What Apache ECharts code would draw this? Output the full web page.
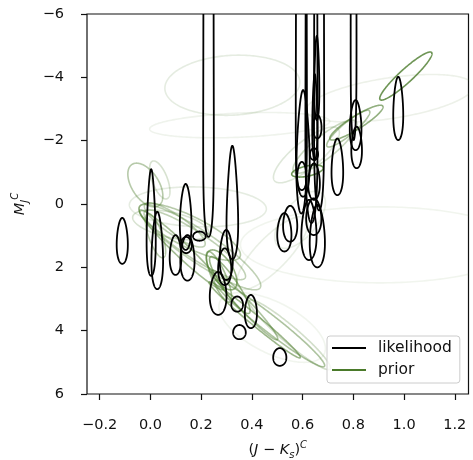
<!DOCTYPE html>
<html><head><meta charset="utf-8">
<script src="https://cdn.jsdelivr.net/npm/echarts@6/dist/echarts.min.js"></script>
<style>html,body{margin:0;padding:0;background:#fff}#c{width:473px;height:460px}</style>
</head><body><div id="c"></div>
<script>
// ---------- likelihood contours (colour, colour error, faint-edge magnitude, fractional parallax error)
const likeColor    = [-0.111,0.003,0.027,0.139,0.099,0.146,0.141,0.193,0.229,0.323,0.299,0.267,0.293,0.342,0.396,0.351,0.510,0.528,0.551,0.625,0.658,0.644,0.602,0.737,0.809,0.813,0.801,0.977,0.658,0.597,0.645,0.645,0.656,0.648,0.595,0.635,0.665];
const likeColorErr = [0.022,0.018,0.023,0.023,0.023,0.028,0.022,0.025,0.021,0.023,0.026,0.033,0.026,0.023,0.024,0.025,0.026,0.028,0.028,0.030,0.030,0.030,0.026,0.023,0.023,0.021,0.0115,0.0197,0.0166,0.0185,0.016,0.023,0.010,0.010,0.022,0.024,0.020];
const likeMagFaint = [1.89,2.27,2.69,1.45,2.24,2.42,1.55,1.16,1.04,1.74,2.40,3.50,2.56,3.40,3.92,4.27,5.11,1.50,1.19,1.77,2.00,0.98,-0.23,-0.28,-1.70,-1.13,-2.02,-2.02,-2.07,-0.44,-1.39,-0.13,-2.65,-1.39,0.30,0.60,0.20];
const likeParErr   = [0.322,0.65,0.51,0.446,0.282,0.32,0.117,0.067,3,0.677,0.349,0.303,0.261,0.11,0.237,0.103,0.128,0.272,0.255,0.412,0.425,0.261,0.65,0.39,0.349,0.293,3,0.43,0.169,0.202,0.085,0.259,0.545,0.554,3,3,3];

// ---------- prior mixture components
const priorColor   = [1.007,0.812,0.780,0.688,0.615,0.619,0.323,0.905,0.944,0.352,-0.020,0.037,0.187,0.080,0.155,0.281,0.470,0.550,0.195,0.123,0.480,0.590,0.480,0.270,0.020,0.411,0.372,0.313,0.175,0.096];
const priorMag     = [-4.04,-2.57,-2.38,-1.81,-1.55,-1.04,-3.75,1.29,-3.34,-2.49,-0.60,-0.76,0.09,0.66,0.88,2.08,3.77,4.13,1.36,1.45,1.55,0.50,3.90,2.30,1.00,3.66,3.19,2.56,1.29,0.66];
const priorColorSd = [0.103,0.105,0.085,0.126,0.130,0.062,0.266,0.550,0.330,0.355,0.069,0.040,0.270,0.150,0.200,0.060,0.217,0.160,0.240,0.166,0.140,0.100,0.210,0.050,0.040,0.180,0.130,0.080,0.200,0.120];
const priorMagSd   = [0.76,0.55,0.58,0.84,0.88,0.19,0.95,1.20,0.75,0.40,0.69,0.60,0.63,0.47,0.90,0.63,1.37,1.10,1.35,1.26,1.15,0.90,1.10,0.80,0.70,1.20,1.10,0.90,1.10,0.70];
const priorCorr    = [-0.93,-0.9,-0.9,-0.85,-0.8,-0.5,-0.1,0,-0.5,-0.3,0.5,0.6,0.1,0.5,0.8,0.6,0.97,0.95,0.9,0.97,-0.8,-0.6,0.6,0.8,0.7,0.985,0.97,0.9,0.9,0.85];
const priorWeight  = [0.8,0.6,0.45,0.3,0.18,0.8,0.14,0.08,0.1,0.09,0.4,0.22,0.14,0.22,0.4,0.6,0.45,0.25,0.35,0.5,0.12,0.12,0.08,0.5,0.4,0.55,0.45,0.55,0.35,0.35];

const xTicks = [-0.2,0.0,0.2,0.4,0.6,0.8,1.0,1.2];

const likeData = likeColor.map((c,i)=>[c, likeMagFaint[i], likeColorErr[i], likeParErr[i]]);
const priorData = priorColor.map((c,i)=>[c, priorMag[i], priorColorSd[i], priorMagSd[i], priorCorr[i], priorWeight[i]]);

const GREEN = '#4a7a2a';
const N = 240;
function likeRender(params, api){
  const cx = api.value(0), yb = api.value(1), sx = api.value(2), f = api.value(3);
  const M0 = yb - 5*Math.log10(1+f);
  const pts = [];
  for (let k=0;k<=N;k++){
    const t = 2*Math.PI*k/N;
    const w = Math.max(1 + f*Math.sin(t), 1e-6);
    pts.push(api.coord([cx + sx*Math.cos(t), M0 + 5*Math.log10(w)]));
  }
  return {type:'polygon', shape:{points:pts}, style:{fill:'none', stroke:'#000', lineWidth:1.8}};
}
function priorRender(params, api){
  const cx=api.value(0), cy=api.value(1), sx=api.value(2), sy=api.value(3), r=api.value(4), a=api.value(5);
  const q = Math.sqrt(1-r*r);
  const pts=[];
  for (let k=0;k<=N;k++){
    const t = 2*Math.PI*k/N;
    pts.push(api.coord([cx + sx*Math.cos(t), cy + sy*(r*Math.cos(t) + q*Math.sin(t))]));
  }
  return {type:'polygon', shape:{points:pts}, style:{fill:'none', stroke:GREEN, opacity:a, lineWidth:1.6}};
}
const fmt = v => (v<0?'\u2212':'') + Math.abs(v).toFixed(1);
const FONT = 'DejaVu Sans';
const richName = {it:{fontStyle:'italic', fontFamily:FONT, fontSize:14.5, lineHeight:20},
            sub:{fontStyle:'italic', fontFamily:FONT, fontSize:10, verticalAlign:'bottom', lineHeight:12},
            sup:{fontStyle:'italic', fontFamily:FONT, fontSize:10, verticalAlign:'top', lineHeight:12}};
const chart = echarts.init(document.getElementById('c'), null, {renderer:'canvas'});
chart.setOption({
  animation:false,
  backgroundColor:'#fff',
  grid:{left:87, right:4.5, top:14, bottom:66, outerBoundsMode:'none', containLabel:false,
    show:true, borderColor:'#111', borderWidth:1.2, backgroundColor:'transparent'},
  xAxis:{type:'value', min:-0.25, max:1.254,
    name:'({it|J} \u2212 {it|K}{sub|s}){sup|C}', nameLocation:'middle', nameGap:46,
    nameTextStyle:{fontFamily:FONT, fontSize:14.5, color:'#111', lineHeight:20, rich:richName},
    axisLine:{show:false, onZero:false}, splitLine:{show:false},
    axisTick:{show:true, length:6, lineStyle:{color:'#111', width:1.2}, customValues:xTicks},
    axisLabel:{fontFamily:FONT, fontSize:14.5, color:'#111', margin:24, formatter:fmt, customValues:xTicks}},
  yAxis:{type:'value', min:-6, max:6, interval:2, inverse:true,
    name:'{it|M}{sub|J}{sup|C}', nameLocation:'middle', nameGap:57,
    nameTextStyle:{fontFamily:FONT, fontSize:14.5, color:'#111', lineHeight:20, rich:richName},
    axisLine:{show:false, onZero:false}, splitLine:{show:false},
    axisTick:{show:true, length:6, lineStyle:{color:'#111', width:1.2}},
    axisLabel:{fontFamily:FONT, fontSize:14.5, color:'#111', margin:23, formatter:v=>(v<0?'\u2212':'')+Math.abs(v)}},
  legend:{orient:'vertical', left:327, top:336, itemWidth:34, itemHeight:2, itemGap:6,
    padding:[4,8,5,5], backgroundColor:'rgba(255,255,255,0.8)', borderColor:'#cccccc', borderWidth:1, borderRadius:3,
    textStyle:{fontFamily:FONT, fontSize:15.5, color:'#111', padding:[0,0,0,7]},
    data:[{name:'likelihood', icon:'rect', itemStyle:{color:'#000'}}, {name:'prior', icon:'rect', itemStyle:{color:GREEN}}]},
  series:[
    {type:'custom', name:'prior', renderItem:priorRender, data:priorData, clip:true, encode:{x:0,y:1}, itemStyle:{color:GREEN}, silent:true},
    {type:'custom', name:'likelihood', renderItem:likeRender, data:likeData, clip:true, encode:{x:0,y:1}, itemStyle:{color:'#000'}, silent:true}
  ]
});
</script></body></html>
